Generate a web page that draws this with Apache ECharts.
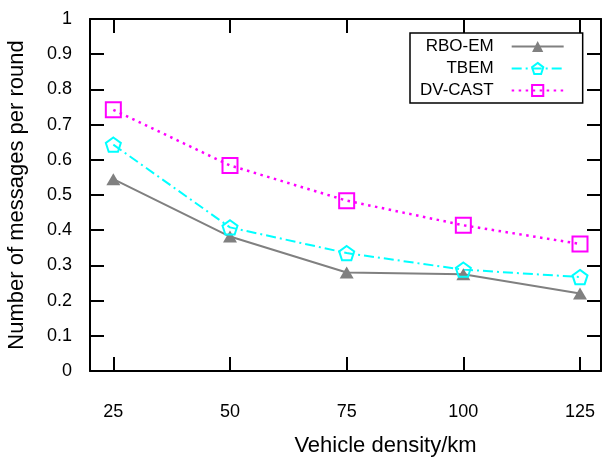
<!DOCTYPE html>
<html><head><meta charset="utf-8">
<script src="https://cdn.jsdelivr.net/npm/echarts@6/dist/echarts.min.js"></script>
<style>html,body{margin:0;padding:0;background:#fff}#c{width:602px;height:461px}</style>
</head><body><div id="c"></div>
<script>
const densities = [25, 50, 75, 100, 125];
const xTicks = [25, 50, 75, 100, 125];
const rboEm = [0.545, 0.382, 0.28, 0.275, 0.22];
const tbem = [0.643, 0.408, 0.335, 0.288, 0.267];
const dvCast = [0.742, 0.584, 0.484, 0.414, 0.361];
const seriesNames = ['RBO-EM', 'TBEM', 'DV-CAST'];

const FONT = '"Liberation Sans", Arial, Helvetica, sans-serif';
const pair = v => densities.map((d, i) => [d, v[i]]);
const pentagon = 'path://M0,-1 L0.951,-0.309 L0.588,0.809 L-0.588,0.809 L-0.951,-0.309 Z';

function xAxisBase() {
  return {
    type: 'value', min: 20, max: 129.5,
    axisLine: {show: true, onZero: false, lineStyle: {color: '#000', width: 2}},
    axisTick: {show: true, inside: true, length: 14, customValues: xTicks, lineStyle: {color: '#000', width: 2}},
    splitLine: {show: false}
  };
}
function yAxisBase() {
  return {
    type: 'value', min: 0, max: 1, interval: 0.1,
    axisLine: {show: true, onZero: false, lineStyle: {color: '#000', width: 2}},
    axisTick: {show: true, inside: true, length: 14, lineStyle: {color: '#000', width: 2}},
    splitLine: {show: false}
  };
}

const chart = echarts.init(document.getElementById('c'), null, {renderer: 'canvas'});
chart.setOption({
  animation: false,
  backgroundColor: '#fff',
  textStyle: {fontFamily: FONT},
  grid: {left: 90, top: 19, width: 511, height: 352, containLabel: false, outerBoundsMode: 'none'},
  xAxis: [
    Object.assign(xAxisBase(), {
      position: 'bottom',
      name: 'Vehicle density/km', nameLocation: 'middle', nameGap: 64,
      nameTextStyle: {fontSize: 22, color: '#000', fontFamily: FONT, padding: [0, 0, 0, 80]},
      axisLabel: {show: true, margin: 32, fontSize: 18, color: '#000', fontFamily: FONT, customValues: xTicks}
    }),
    Object.assign(xAxisBase(), {
      position: 'top',
      axisLabel: {show: true, customValues: xTicks, formatter: () => '', color: 'rgba(0,0,0,0)'}
    })
  ],
  yAxis: [
    Object.assign(yAxisBase(), {
      position: 'left',
      name: 'Number of messages per round', nameLocation: 'middle', nameGap: 62,
      nameTextStyle: {fontSize: 22, color: '#000', fontFamily: FONT},
      axisLabel: {show: true, margin: 18, fontSize: 18, color: '#000', fontFamily: FONT,
        formatter: v => String(Math.round(v * 10) / 10)}
    }),
    Object.assign(yAxisBase(), {
      position: 'right',
      axisLabel: {show: true, formatter: () => '', color: 'rgba(0,0,0,0)'}
    })
  ],
  legend: {
    orient: 'vertical', align: 'right', left: 410, top: 33,
    itemWidth: 52, itemHeight: 14, itemGap: 5,
    padding: [5, 18, 4, 10],
    borderColor: '#000', borderWidth: 1.5, backgroundColor: '#fff',
    textStyle: {fontSize: 17, lineHeight: 17, color: '#000', fontFamily: FONT, padding: [0, 13, 0, 0]},
    data: seriesNames
  },
  series: [
    {
      name: seriesNames[0], type: 'line', data: pair(rboEm),
      symbol: 'triangle', symbolSize: [14, 12],
      lineStyle: {color: '#808080', width: 2, type: 'solid'},
      itemStyle: {color: '#808080'}
    },
    {
      name: seriesNames[1], type: 'line', data: pair(tbem),
      symbol: pentagon, symbolSize: 15, symbolKeepAspect: true,
      lineStyle: {color: '#00ffff', width: 2, type: [10, 4, 2, 4]},
      itemStyle: {color: 'rgba(255,255,255,0)', borderColor: '#00ffff', borderWidth: 2}
    },
    {
      name: seriesNames[2], type: 'line', data: pair(dvCast),
      symbol: 'rect', symbolSize: 15,
      lineStyle: {color: '#ff00ff', width: 2.5, type: [2.5, 4.5]},
      itemStyle: {color: 'rgba(255,255,255,0)', borderColor: '#ff00ff', borderWidth: 2}
    },
    {
      name: '_mirror', type: 'line', xAxisIndex: 1, yAxisIndex: 1,
      data: [], silent: true, showSymbol: false, lineStyle: {opacity: 0}
    }
  ]
});
</script></body></html>
